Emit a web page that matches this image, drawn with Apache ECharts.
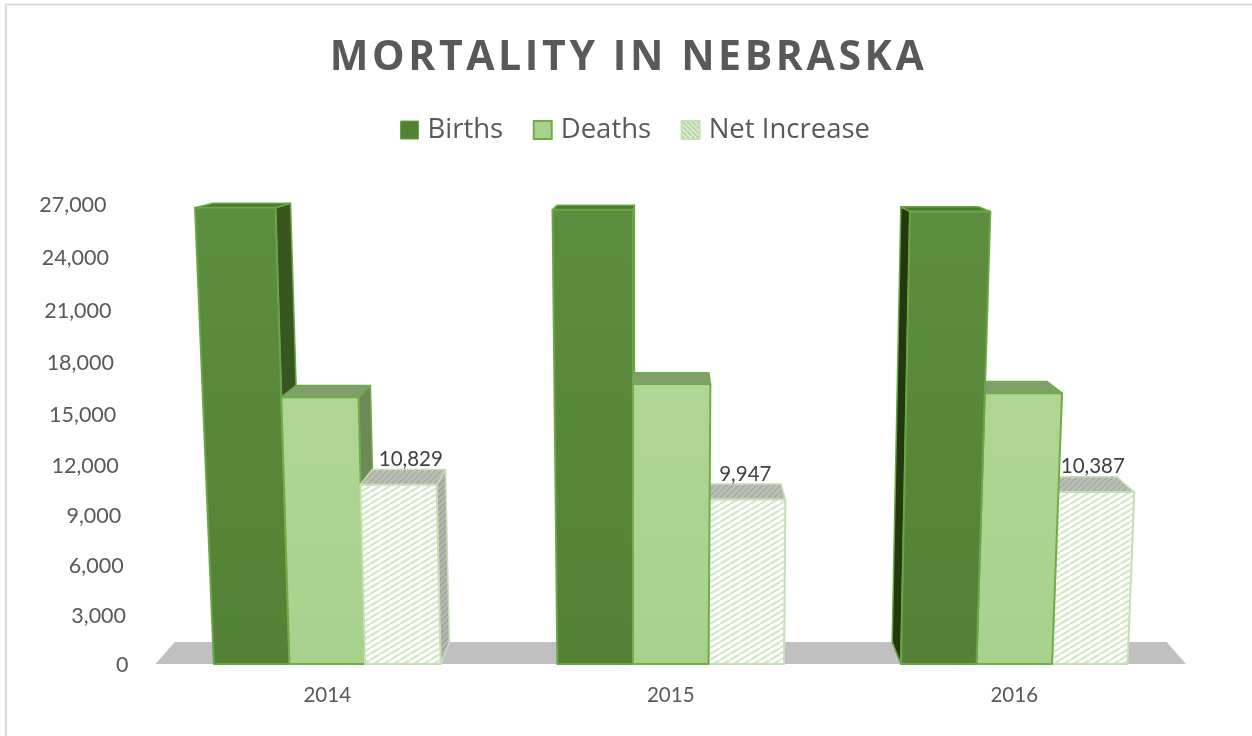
<!DOCTYPE html>
<html>
<head>
<meta charset="utf-8">
<title>Mortality in Nebraska</title>
<style>
  html, body { margin: 0; padding: 0; background: #fff; }
  #chart { width: 1252px; height: 736px; }
</style>
<script src="https://cdn.jsdelivr.net/npm/echarts@6/dist/echarts.min.js"></script>
</head>
<body>
<div id="chart"></div>
<script>
const categories = ['2014', '2015', '2016'];
const births = [26794, 26679, 26586];
const deaths = [15965, 16732, 16199];
const netIncrease = [10829, 9947, 10387];
const yTicks = [0, 3000, 6000, 9000, 12000, 15000, 18000, 21000, 24000, 27000];

const FONT = 'Lato, "Open Sans", sans-serif';
const GRID = { left: 155.5, width: 1030.5, top: 204, height: 460 };

// 3d look of the original: everything below works on the pixels the axes give back
const DEPTH = 0.038;          // how far the back face sits towards the vanishing point
const HORIZON = 575;          // vanishing point height above the floor
const FLOOR_DEPTH = 22;

function perspHeight(lin) {
  return lin * (0.9535 + 0.000101 * lin);
}

function hatch(bg, line, width, w, h, flip) {
  const c = document.createElement('canvas');
  c.width = w;
  c.height = h;
  const ctx = c.getContext('2d');
  ctx.fillStyle = bg;
  ctx.fillRect(0, 0, w, h);
  ctx.strokeStyle = line;
  ctx.lineWidth = width;
  for (let k = -1; k <= 1; k++) {
    ctx.beginPath();
    if (flip) {
      ctx.moveTo(k * w, 0);
      ctx.lineTo(k * w + w, h);
    } else {
      ctx.moveTo(k * w, h);
      ctx.lineTo(k * w + w, 0);
    }
    ctx.stroke();
  }
  return { image: c, repeat: 'repeat' };
}

const vGrad = (a, b) => new echarts.graphic.LinearGradient(0, 0, 0, 1, [
  { offset: 0, color: a }, { offset: 1, color: b }
]);

const barLooks = [
  {
    front: vGrad('#5d8d3e', '#548135'), top: '#4a7a2d', right: '#38571f', left: '#22390f',
    stroke: '#69a644', slot: -1
  },
  {
    front: vGrad('#afd694', '#a9d18e'), top: '#7f9f6b', right: '#6c8a58', left: '#6c8a58',
    stroke: '#70ad47', slot: 0
  },
  {
    front: hatch('#ffffff', '#d2e7c6', 2.2, 10, 6),
    top: hatch('#bcbfb9', '#a3ad9c', 1.5, 6, 6),
    right: hatch('#b4b8b0', '#98a392', 1.5, 6, 6),
    left: '#b4b8b0',
    stroke: '#c5e0b4', slot: 1
  }
];

const labelNudge = [8, -1, 3];

function renderFloor(params, api) {
  if (params.dataIndex !== 0) return;
  const halfCat = api.size([1, 0])[0] / 2;
  const y0 = api.coord([0, 0])[1];
  const a = api.coord([0, 0])[0] - halfCat;
  const b = api.coord([2, 0])[0] + halfCat;
  const inset = FLOOR_DEPTH * 0.88;
  return {
    type: 'polygon',
    z2: 0,
    shape: { points: [[a, y0], [b, y0], [b - inset, y0 - FLOOR_DEPTH], [a + inset, y0 - FLOOR_DEPTH]] },
    style: { fill: '#c0c0c0' }
  };
}

function makeBar(seriesIdx) {
  const look = barLooks[seriesIdx];
  return function (params, api) {
    const i = api.value(0);
    const xc = api.coord([i, 0])[0];
    const y0 = api.coord([i, 0])[1];
    const vpx = api.coord([1, 0])[0];
    const vpy = y0 - HORIZON;
    const w = api.size([1, 0])[0] * 0.22;
    const ref = xc - w / 2;
    const x0 = xc + (look.slot - 0.5) * w;
    const x1 = x0 + w;
    const lin = y0 - api.coord([i, api.value(1)])[1];
    const h = perspHeight(lin);
    const f = h / GRID.height;

    const lean = x => x + f * 0.041 * (xc - vpx) + f * f * 0.066 * (x - ref);
    const back = p => [p[0] + DEPTH * (vpx - p[0]), p[1] + DEPTH * (vpy - p[1])];

    const tl = [lean(x0), y0 - h], tr = [lean(x1), y0 - h];
    const bl = [x0, y0], br = [x1, y0];
    const btl = back(tl), btr = back(tr), bbl = back(bl), bbr = back(br);

    const order = (2000 - Math.round(Math.abs((x0 + x1) / 2 - vpx))) * 4;
    const face = (points, fill, k) => ({
      type: 'polygon',
      z2: order + k,
      shape: { points },
      style: { fill, stroke: look.stroke, lineWidth: k === 2 ? 2 : 1.5, lineJoin: 'round' }
    });

    const children = [];
    if (x1 < vpx - 1) children.push(face([tr, btr, bbr, br], look.right, 0));
    if (x0 > vpx + 1) children.push(face([tl, btl, bbl, bl], look.left, 0));
    children.push(face([tl, btl, btr, tr], look.top, 1));
    children.push(face([tl, tr, br, bl], look.front, 2));

    if (seriesIdx === 2) {
      children.push({
        type: 'text',
        z2: 100000,
        style: {
          text: api.value(1).toLocaleString('en-US'),
          x: (x0 + x1) / 2 + labelNudge[i],
          y: btl[1] - 10,
          align: 'center',
          verticalAlign: 'middle',
          fontFamily: FONT,
          fontSize: 20.5,
          fill: '#404040'
        }
      });
    }
    return { type: 'group', children };
  };
}

// the original's tick labels follow the same perspective: they drift left and squeeze downwards
const tickRich = {};
yTicks.forEach(v => {
  const lin = v / 27000 * GRID.height;
  const down = Math.max(0, lin - perspHeight(lin)) + 1;
  tickRich['t' + v] = {
    fontFamily: FONT,
    fontSize: 21.5,
    color: '#595959',
    padding: [down * 2, v / 3000 * 2.44, 0, 0]
  };
});

const toPairs = arr => arr.map((v, i) => [i, v]);

const chart = echarts.init(document.getElementById('chart'), null, { renderer: 'canvas' });
chart.setOption({
  animation: false,
  backgroundColor: '#ffffff',
  title: {
    text: 'MORTALITY IN NEBRASKA',
    left: 623.5,
    top: 33,
    zlevel: 1,
    textAlign: 'center',
    textStyle: {
      fontFamily: '"Open Sans", sans-serif',
      fontWeight: 'bold',
      fontSize: 41,
      color: '#595959'
    }
  },
  legend: {
    left: 400,
    top: 116,
    padding: 0,
    itemWidth: 18,
    itemHeight: 18,
    itemGap: 29.5,
    selectedMode: false,
    textStyle: { fontFamily: '"Open Sans", sans-serif', fontSize: 27.5, color: '#595959', padding: [0, 0, 0, 4] },
    data: [
      { name: 'Births', icon: 'rect', itemStyle: { color: '#548135', borderColor: '#69a644', borderWidth: 1 } },
      { name: 'Deaths', icon: 'rect', itemStyle: { color: '#a9d18e', borderColor: '#70ad47', borderWidth: 2 } },
      {
        name: 'Net Increase',
        icon: 'rect',
        itemStyle: { color: hatch('#e6f1de', '#b3d39f', 2, 5, 5, true), borderColor: '#c5e0b4', borderWidth: 2 }
      }
    ]
  },
  grid: GRID,
  xAxis: {
    type: 'category',
    data: categories,
    axisLine: { show: false },
    axisTick: { show: false },
    axisLabel: { margin: 21, fontFamily: FONT, fontSize: 20.5, color: '#595959' }
  },
  yAxis: {
    type: 'value',
    min: 0,
    max: 27000,
    interval: 3000,
    axisLine: { show: false },
    axisTick: { show: false },
    splitLine: { show: false },
    axisLabel: {
      margin: 27,
      rich: tickRich,
      formatter: v => `{t${v}|${v.toLocaleString('en-US')}}`
    }
  },
  graphic: [
    { type: 'line', silent: true, shape: { x1: 5, y1: 4.5, x2: 1252, y2: 4.5 }, style: { stroke: '#d4d4d4', lineWidth: 1.5 } },
    { type: 'line', silent: true, shape: { x1: 6, y1: 4, x2: 6, y2: 736 }, style: { stroke: '#d9d9d9', lineWidth: 2 } }
  ],
  series: [
    { type: 'custom', name: 'floor', renderItem: renderFloor, data: toPairs([0]), encode: { x: 0, y: 1 }, clip: false, silent: true },
    { type: 'custom', name: 'Births', renderItem: makeBar(0), data: toPairs(births), encode: { x: 0, y: 1 }, clip: false, silent: true },
    { type: 'custom', name: 'Deaths', renderItem: makeBar(1), data: toPairs(deaths), encode: { x: 0, y: 1 }, clip: false, silent: true },
    { type: 'custom', name: 'Net Increase', renderItem: makeBar(2), data: toPairs(netIncrease), encode: { x: 0, y: 1 }, clip: false, silent: true }
  ]
});

// the title is tracked out in the original, echarts has no option for that:
// it sits on its own canvas layer, so only that layer gets the spacing
const painter = chart.getZr().painter;
painter.getLayer(1).ctx.letterSpacing = '3.6px';
painter.refresh(true);
</script>
</body>
</html>
